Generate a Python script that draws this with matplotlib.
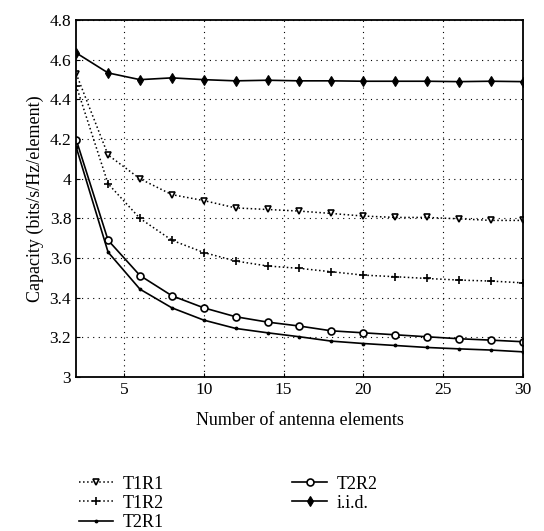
import numpy as np
import matplotlib
matplotlib.use("Agg")
import matplotlib.pyplot as plt

plt.rcParams['font.family'] = ['Liberation Serif', 'DejaVu Serif']

# antenna counts
n_elem = [2, 4, 6, 8, 10, 12, 14, 16, 18, 20, 22, 24, 26, 28, 30]

# capacity curves
t1r1 = [4.53, 4.12, 4.00, 3.92, 3.89, 3.853, 3.845, 3.837, 3.825, 3.812, 3.805, 3.805, 3.798, 3.79, 3.79]
t1r2 = [4.47, 3.975, 3.80, 3.69, 3.628, 3.585, 3.56, 3.548, 3.531, 3.514, 3.506, 3.497, 3.489, 3.484, 3.475]
t2r1 = [4.16, 3.63, 3.443, 3.349, 3.287, 3.245, 3.223, 3.203, 3.181, 3.169, 3.159, 3.149, 3.142, 3.136, 3.127]
t2r2 = [4.198, 3.69, 3.512, 3.41, 3.349, 3.304, 3.277, 3.257, 3.233, 3.223, 3.213, 3.203, 3.193, 3.186, 3.178]
iid = [4.635, 4.534, 4.50, 4.509, 4.50, 4.494, 4.497, 4.494, 4.494, 4.492, 4.492, 4.492, 4.49, 4.492, 4.49]

yticks = [3, 3.2, 3.4, 3.6, 3.8, 4, 4.2, 4.4, 4.6, 4.8]
ytick_labels = ['3', '3.2', '3.4', '3.6', '3.8', '4', '4.2', '4.4', '4.6', '4.8']
xticks = [5, 10, 15, 20, 25, 30]

fig = plt.figure(figsize=(5.44, 5.31), dpi=100)
ax = fig.add_axes([0.14, 0.29, 0.821, 0.672])

ax.plot(n_elem, t1r1, color='black', linestyle=':', linewidth=1.1, marker='v',
        markersize=5, markerfacecolor='white', markeredgewidth=1.2, label='T1R1')
ax.plot(n_elem, t1r2, color='black', linestyle=':', linewidth=1.1, marker='+',
        markersize=6, markeredgewidth=1.2, label='T1R2')
ax.plot(n_elem, t2r1, color='black', linestyle='-', linewidth=1.2, marker='.',
        markersize=3.5, label='T2R1')
ax.plot(n_elem, t2r2, color='black', linestyle='-', linewidth=1.2, marker='o',
        markersize=5, markerfacecolor='white', markeredgewidth=1.2, label='T2R2')
ax.plot(n_elem, iid, color='black', linestyle='-', linewidth=1.2, marker='d',
        markersize=5, markerfacecolor='black', markeredgewidth=0.8, label='i.i.d.')

ax.set_xlim(2, 30)
ax.set_ylim(3, 4.8)
ax.set_xticks(xticks)
ax.set_yticks(yticks)
ax.set_yticklabels(ytick_labels)
ax.tick_params(direction='in', labelsize=12.5, length=3)
ax.grid(True, linestyle=(0, (1, 4)), color='black', linewidth=0.8)
for s in ax.spines.values():
    s.set_linewidth(1.3)

ax.set_xlabel('Number of antenna elements', fontsize=13, labelpad=10)
ax.set_ylabel('Capacity (bits/s/Hz/element)', fontsize=13)

fig.legend(loc='upper left', bbox_to_anchor=(0.115, 0.135), ncol=2, frameon=False,
           fontsize=13, handlelength=1.9, columnspacing=7.1, labelspacing=0.12,
           handletextpad=0.55)

plt.savefig('out.png', dpi=100)
